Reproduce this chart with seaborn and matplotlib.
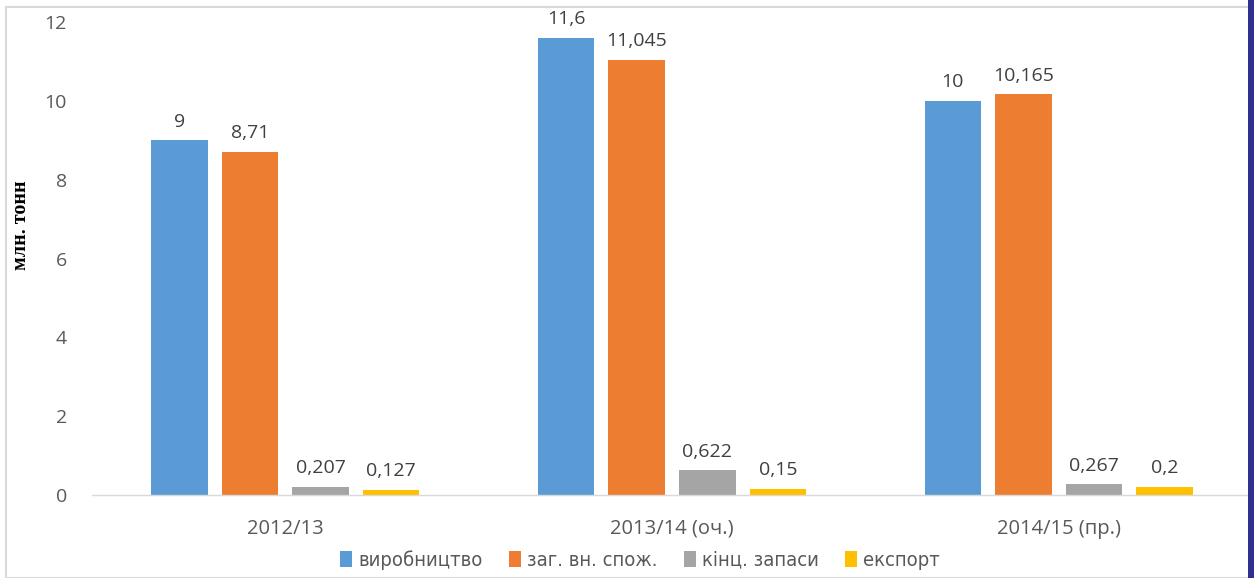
import matplotlib
matplotlib.use("Agg")
import matplotlib.pyplot as plt
import seaborn as sns
import pandas as pd
from matplotlib.patches import Rectangle

categories = ["2012/13", "2013/14 (оч.)", "2014/15 (пр.)"]
series = ["виробництво", "заг. вн. спож.", "кінц. запаси", "експорт"]
vyrobnytstvo = [9, 11.6, 10]
spozhyvannia = [8.71, 11.045, 10.165]
zapasy = [0.207, 0.622, 0.267]
eksport = [0.127, 0.15, 0.2]
colors = ["#5B9BD5", "#ED7D31", "#A5A5A5", "#FFC000"]

rows = []
for s, vals in zip(series, [vyrobnytstvo, spozhyvannia, zapasy, eksport]):
    for c, v in zip(categories, vals):
        rows.append({"cat": c, "series": s, "value": v})
df = pd.DataFrame(rows)

sns.set_theme(style="white")
plt.rcParams['font.family'] = ['Open Sans', 'DejaVu Sans']

fig = plt.figure(figsize=(12.54, 5.78), dpi=100)
ax = fig.add_axes([92/1254, 83/578, 1160/1254, 473/578])

sns.barplot(data=df, x="cat", y="value", hue="series", order=categories,
            hue_order=series, palette=colors, width=0.73, gap=0.2,
            ax=ax, saturation=1, legend=True, edgecolor="none")

ax.set_ylim(0, 12)
ax.set_xlim(-0.5, 2.5)
ax.set_yticks([0, 2, 4, 6, 8, 10, 12])
ax.set_xlabel("")
ax.set_ylabel("млн. тонн", family=['Liberation Serif', 'DejaVu Serif'],
              fontweight='bold', fontsize=14.5, color="#000000")
ax.yaxis.set_label_coords(-0.053, 0.571)
ax.tick_params(axis='y', length=0, pad=18, labelsize=14, labelcolor="#595959")
ax.tick_params(axis='x', length=0, pad=17, labelsize=14.5, labelcolor="#595959")
for sp in ["top", "right", "left"]:
    ax.spines[sp].set_visible(False)
ax.spines["bottom"].set_color("#D9D9D9")
ax.spines["bottom"].set_linewidth(1)
ax.grid(False)

for cont in ax.containers:
    labels = [f"{v:g}".replace('.', ',') for v in cont.datavalues]
    ax.bar_label(cont, labels=labels, padding=7, fontsize=14, color="#404040")

handles, labs = ax.get_legend_handles_labels()
ax.legend_.remove()
fig.legend(handles, labs, loc="center", bbox_to_anchor=(640/1254, 1 - 560/578),
           ncol=4, frameon=False, handlelength=0.6, handleheight=0.9,
           handletextpad=0.3, columnspacing=1.3,
           prop={'family': ['DejaVu Sans'], 'stretch': 'condensed', 'size': 14.5},
           labelcolor="#595959")

fig.patches.append(Rectangle((6/1254, 0), 1.0, 1 - 7/578, transform=fig.transFigure,
                             fill=False, edgecolor="#D9D9D9", linewidth=1.5))
fig.patches.append(Rectangle((1248/1254, 0), 6/1254, 1, transform=fig.transFigure,
                             facecolor="#2E3192", edgecolor="none", zorder=10))

fig.savefig("out.png", dpi=100)
